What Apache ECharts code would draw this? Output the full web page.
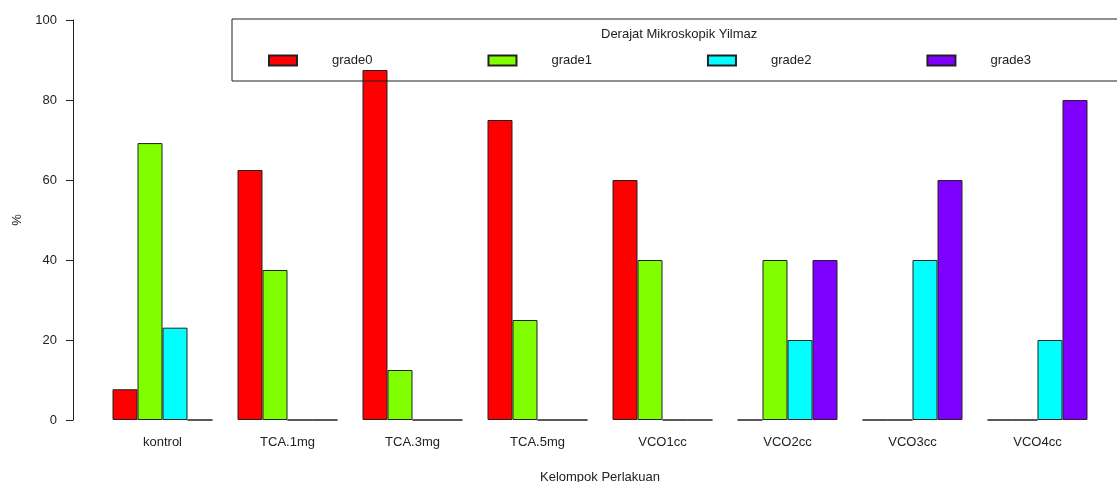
<!DOCTYPE html>
<html>
<head>
<meta charset="utf-8">
<script src="https://cdn.jsdelivr.net/npm/echarts@6/dist/echarts.min.js"></script>
<style>
html,body{margin:0;padding:0;background:#fff;}
#main{width:1117px;height:482px;}
</style>
</head>
<body>
<div id="main"></div>
<script>
// kelompok perlakuan
var categories = ["kontrol","TCA.1mg","TCA.3mg","TCA.5mg","VCO1cc","VCO2cc","VCO3cc","VCO4cc"];
var grades = ["grade0","grade1","grade2","grade3"];
var grade0 = [7.69, 62.5, 87.5, 75, 60, 0, 0, 0];
var grade1 = [69.23, 37.5, 12.5, 25, 40, 40, 0, 0];
var grade2 = [23.08, 0, 0, 0, 0, 20, 40, 20];
var grade3 = [0, 0, 0, 0, 0, 40, 60, 80];
var yTicks = [0, 20, 40, 60, 80, 100];
var colors = ["#FF0000","#80FF00","#00FFFF","#8000FF"];

window.onload = function () {
    var chart = echarts.init(document.getElementById("main"));
    var values = [grade0, grade1, grade2, grade3];
    var series = [];
    for (var i = 0; i < grades.length; i++) {
        series.push({
            name: grades[i],
            type: "bar",
            data: values[i],
            barGap: "0%",
            barCategoryGap: "20%",
            itemStyle: {color: colors[i], borderColor: "#222", borderWidth: 1}
        });
    }
    var option = {
        animation: false,
        textStyle: {fontFamily: "Liberation Sans, Arial, sans-serif"},
        title: {
            text: "Derajat Mikroskopik Yilmaz",
            left: 601,
            top: 28,
            padding: 0,
            textStyle: {fontSize: 13, fontWeight: "normal", color: "#222"}
        },
        legend: {
            data: grades,
            orient: "horizontal",
            left: 232,
            top: 19,
            width: 1000,
            padding: [35, 150, 14, 36],
            borderColor: "#222",
            borderWidth: 1,
            icon: "rect",
            itemWidth: 28,
            itemHeight: 10,
            itemGap: 115,
            selectedMode: false,
            textStyle: {fontSize: 13, color: "#222", width: 45, padding: [0, 0, 0, 30]}
        },
        grid: {left: 100, right: 17, top: 20, bottom: 62, outerBoundsMode: "none", containLabel: false},
        xAxis: {
            type: "category",
            data: categories,
            name: "Kelompok Perlakuan",
            nameLocation: "middle",
            nameGap: 51,
            nameTextStyle: {fontSize: 13, color: "#222"},
            axisLine: {show: false},
            axisTick: {show: false},
            axisLabel: {fontSize: 13, color: "#222", margin: 16}
        },
        yAxis: {
            type: "value",
            min: yTicks[0],
            max: yTicks[yTicks.length - 1],
            interval: 20,
            offset: 27,
            name: "%",
            nameLocation: "middle",
            nameGap: 48,
            nameTextStyle: {fontSize: 13, color: "#222"},
            axisLine: {show: true, lineStyle: {color: "#222", width: 1}},
            axisTick: {show: true, length: 7, lineStyle: {color: "#222"}},
            axisLabel: {fontSize: 13, color: "#222", margin: 16},
            splitLine: {show: false}
        },
        series: series
    };
    chart.setOption(option);
};
</script>
</body>
</html>
